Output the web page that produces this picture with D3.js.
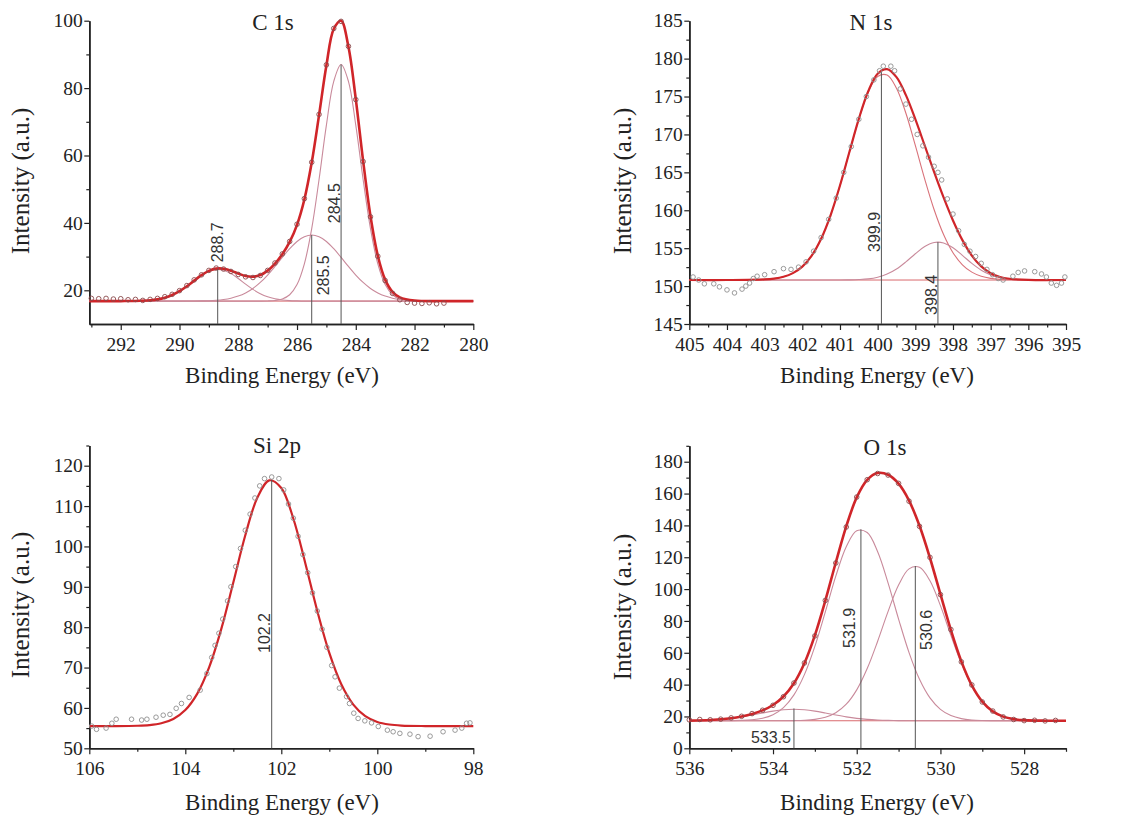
<!DOCTYPE html>
<html><head><meta charset="utf-8">
<script src="https://cdn.jsdelivr.net/npm/d3@7"></script>
<style>body{margin:0;background:#fff} svg{display:block}</style>
</head><body>
<svg id="chart" width="1133" height="820"></svg>
<script>
// ---------------- C 1s ----------------
const cGrid = [293.07,292,291.5,291,290.75,290.5,290.25,290,289.75,289.5,289.25,289,288.75,288.5,288.25,288,287.75,287.5,287.25,287,286.75,286.5,286.25,286,285.75,285.5,285.25,285,284.75,284.5,284.25,284,283.75,283.5,283.25,283,282.75,282.5,282,281,280];
const cComp2887 = [16.8,16.8,16.84,17.04,17.31,17.8,18.59,19.72,21.18,22.84,24.43,25.63,26.18,25.94,24.97,23.5,21.83,20.27,18.99,18.07,17.48,17.13,16.95,16.86,16.8,16.8,16.8,16.8,16.8,16.8,16.8,16.8,16.8,16.8,16.8,16.8,16.8,16.8,16.8,16.8,16.8];
const cComp2855 = [16.8,16.8,16.8,16.8,16.8,16.8,16.8,16.8,16.81,16.83,16.86,16.92,17.05,17.28,17.66,18.28,19.22,20.55,22.33,24.53,27.07,29.77,32.33,34.48,35.9,36.4,35.9,34.48,32.33,29.77,27.07,24.53,22.33,20.55,19.22,18.28,17.66,17.28,16.92,16.8,16.8];
const cComp2845 = [16.8,16.8,16.8,16.8,16.8,16.8,16.8,16.8,16.8,16.8,16.8,16.8,16.8,16.8,16.8,16.8,16.8,16.8,16.8,16.84,16.98,17.42,18.67,21.69,27.85,38.3,52.88,69.02,82.0,87.0,82.0,69.02,52.88,38.3,27.85,21.69,18.67,17.42,16.84,16.8,16.8];
const cEnvelope = [16.8,16.8,16.84,17.04,17.31,17.8,18.59,19.73,21.19,22.87,24.49,25.75,26.43,26.42,25.83,24.98,24.25,24.02,24.52,25.84,27.93,30.72,34.35,39.43,46.95,57.9,71.98,86.7,97.53,99.97,92.27,76.75,58.41,42.05,30.27,23.17,19.53,17.9,16.96,16.8,16.8];
const cBaseline = 16.8;
const cDataX = [293.0,292.75,292.5,292.25,292.0,291.75,291.5,291.25,291.0,290.75,290.5,290.25,290.0,289.75,289.5,289.25,289.0,288.75,288.5,288.25,288.0,287.75,287.5,287.25,287.0,286.75,286.5,286.25,286.0,285.75,285.5,285.25,285.0,284.75,284.5,284.25,284.0,283.75,283.5,283.25,283.0,282.75,282.5,282.25,282.0,281.75,281.5,281.25,281.0];
const cDataY = [17.6,17.5,17.6,17.4,17.5,17.2,17.3,17.0,17.3,17.6,18.1,18.8,19.9,21.4,23.1,24.6,25.9,26.6,26.3,25.6,24.7,24.0,23.8,24.4,25.9,28.1,30.8,34.5,39.6,47.2,58.0,72.2,86.9,97.7,99.8,92.4,76.6,58.2,41.8,30.1,22.9,19.1,17.2,16.4,16.2,16.1,16.3,16.0,16.2];
const cPeaks = [288.7, 285.5, 284.5];
const cPeakTops = [26.2, 36.4, 87.0];
const cXTicks = [292,290,288,286,284,282,280];
const cYTicks = [20,40,60,80,100];

// ---------------- N 1s ----------------
const nGrid = [405,404,403,402.75,402.5,402.25,402,401.75,401.5,401.25,401,400.75,400.5,400.25,400,399.75,399.5,399.25,399,398.75,398.5,398.25,398,397.75,397.5,397.25,397,396.75,396.5,396,395];
const nComp3999 = [150.8,150.8,150.88,150.99,151.23,151.71,152.57,154.03,156.25,159.34,163.25,167.66,171.99,175.55,177.64,177.84,176.1,172.79,168.55,164.11,160.07,156.8,154.4,152.81,151.84,151.3,151.02,150.89,150.84,150.8,150.8];
const nComp3984 = [150.8,150.8,150.8,150.8,150.8,150.8,150.8,150.8,150.8,150.8,150.8,150.82,150.86,150.95,151.17,151.58,152.25,153.19,154.26,155.21,155.75,155.69,155.05,154.05,152.99,152.1,151.48,151.11,150.93,150.81,150.8];
const nEnvelope = [150.8,150.8,150.88,150.99,151.23,151.71,152.57,154.03,156.25,159.34,163.26,167.68,172.05,175.7,178.01,178.62,177.55,175.18,172.01,168.52,165.02,161.69,158.65,156.06,154.03,152.6,151.7,151.2,150.97,150.81,150.8];
const nBaseline = 150.8;
const nDataX = [404.9,404.75,404.6,404.35,404.2,404.0,403.8,403.6,403.5,403.4,403.3,403.2,403.0,402.75,402.5,402.3,402.1,401.9,401.7,401.5,401.3,401.1,400.9,400.7,400.5,400.3,400.1,399.95,399.85,399.65,399.55,399.4,399.25,399.1,398.95,398.8,398.65,398.5,398.4,398.3,398.15,398.0,397.85,397.7,397.55,397.4,397.25,397.1,396.95,396.8,396.67,396.41,396.27,396.1,395.83,395.65,395.52,395.39,395.25,395.12,395.03];
const nDataY = [151.2,150.8,150.3,150.3,149.9,149.5,149.1,149.6,150.0,150.4,151.0,151.3,151.5,151.9,152.3,152.2,152.5,153.2,154.6,156.4,158.8,161.6,165.0,168.4,172.0,175.0,177.2,178.4,179.0,179.0,178.4,176.0,174.0,172.0,170.0,168.5,167.0,165.8,165.0,164.0,161.5,159.5,157.3,155.5,154.6,153.9,153.0,152.2,151.5,151.0,150.8,151.3,151.8,152.0,151.9,151.6,151.2,150.4,150.1,150.4,151.2];
const nPeaks = [399.9, 398.4];
const nPeakTops = [178.2, 155.8];
const nXTicks = [405,404,403,402,401,400,399,398,397,396,395];
const nYTicks = [145,150,155,160,165,170,175,180,185];

// ---------------- Si 2p ----------------
const sGrid = [106,105.5,105,104.75,104.5,104.25,104,103.75,103.5,103.25,103,102.75,102.5,102.25,102,101.75,101.5,101.25,101,100.75,100.5,100.25,100,99.75,99.5,99,98.5,98];
const sFit = [55.5,55.5,55.58,55.75,56.2,57.26,59.47,63.54,70.17,79.57,91.06,102.76,112.04,116.37,114.47,106.92,95.85,84.0,73.62,65.86,60.83,57.97,56.53,55.89,55.63,55.51,55.5,55.5];
const sDataX = [105.95,105.85,105.65,105.53,105.44,105.12,104.91,104.8,104.61,104.46,104.32,104.19,104.08,103.92,103.69,103.55,103.45,103.38,103.3,103.22,103.12,103.05,102.95,102.85,102.75,102.65,102.55,102.45,102.35,102.2,102.05,101.95,101.85,101.75,101.65,101.55,101.45,101.35,101.25,101.15,101.05,100.95,100.88,100.79,100.64,100.58,100.49,100.4,100.26,100.12,99.98,99.79,99.67,99.53,99.32,99.15,98.9,98.63,98.38,98.24,98.14,98.07];
const sDataY = [55.5,54.7,55.0,56.2,57.2,57.2,57.0,57.2,57.7,58.2,58.4,59.9,61.1,62.6,64.4,68.5,72.5,75.5,78.5,82.0,86.5,90.0,95.0,99.5,104.0,108.0,112.0,115.0,116.8,117.2,116.8,114.0,110.5,107.0,102.5,98.0,93.5,88.5,84.0,79.5,75.0,70.5,67.7,64.9,62.8,61.1,58.7,57.4,56.8,56.3,55.4,54.5,54.1,53.7,53.5,52.9,53.0,54.1,54.5,55.0,56.2,56.3];
const sPeaks = [102.2];
const sPeakTops = [116.5];
const sXTicks = [106,104,102,100,98];
const sYTicks = [50,60,70,80,90,100,110,120];

// ---------------- O 1s ----------------
const oGrid = [536,535.5,535,534.75,534.5,534.25,534,533.75,533.5,533.25,533,532.75,532.5,532.25,532,531.75,531.5,531.25,531,530.75,530.5,530.25,530,529.75,529.5,529.25,529,528.75,528.5,528.25,528,527.5,527];
const oComp5319 = [17.3,17.3,17.37,17.51,17.91,18.91,21.14,25.6,33.58,46.27,64.05,85.71,108.1,126.62,136.66,135.51,123.47,103.78,81.19,60.12,43.32,31.64,24.47,20.55,18.64,17.8,17.47,17.35,17.31,17.3,17.3,17.3,17.3];
const oComp5306 = [17.3,17.3,17.3,17.3,17.3,17.3,17.3,17.33,17.4,17.6,18.16,19.48,22.3,27.68,36.71,50.09,67.25,85.99,102.52,112.72,113.7,105.19,89.6,70.98,53.26,39.03,29.16,23.13,19.9,18.34,17.68,17.34,17.3];
const oComp5335 = [17.4,17.75,18.82,19.74,20.9,22.18,23.36,24.2,24.5,24.2,23.36,22.18,20.9,19.74,18.82,18.16,17.75,17.52,17.4,17.35,17.32,17.3,17.3,17.3,17.3,17.3,17.3,17.3,17.3,17.3,17.3,17.3,17.3];
const oEnvelope = [17.4,17.75,18.89,19.95,21.51,23.79,27.2,32.53,40.88,53.47,70.97,92.77,116.7,139.44,157.59,168.6,172.9,171.8,166.2,155.59,139.74,119.53,96.77,74.23,54.6,39.53,29.33,23.18,19.91,18.34,17.68,17.34,17.3];
const oBaseline = 17.3;
const oDataX = [536,535.75,535.5,535.25,535,534.75,534.5,534.25,534,533.75,533.5,533.25,533,532.75,532.5,532.25,532,531.75,531.5,531.25,531,530.75,530.5,530.25,530,529.75,529.5,529.25,529,528.75,528.5,528.25,528,527.75,527.5,527.25];
const oDataY = [17.9,18.1,17.9,18.3,19.1,20.1,21.8,23.9,27.0,32.4,41.0,53.6,70.6,92.9,116.4,139.0,157.8,168.7,172.6,171.6,166.4,155.2,139.4,119.9,96.5,74.6,54.3,39.8,29.1,23.4,19.7,18.1,17.4,17.6,17.2,17.5];
const oPeaks = [533.5, 531.9, 530.6];
const oPeakTops = [25.0, 137.5, 114.5];
const oXTicks = [536,534,532,530,528];
const oYTicks = [0,20,40,60,80,100,120,140,160,180];

// ---------------- drawing ----------------
const svg = d3.select('#chart');
const SERIF = '"Liberation Serif","Times New Roman",serif';
const SANS = '"Liberation Sans",Arial,sans-serif';
const ENV_COLOR = '#d02529', COMP_COLOR = '#c98a9b', BASE_COLOR = '#d9686c', MARK_COLOR = '#555';

function drawPanel(p) {
  const x = d3.scaleLinear().domain(p.xDomain).range(p.xRange);
  const y = d3.scaleLinear().domain(p.yDomain).range(p.yRange);
  const g = svg.append('g');
  const x0 = p.xRange[0], yB = p.yRange[0];

  g.append('g').attr('transform', `translate(0,${yB})`)
    .call(d3.axisBottom(x).tickValues(p.xTicks).tickFormat(d3.format('d')).tickSize(6).tickSizeOuter(0).tickPadding(7));
  g.append('g').attr('transform', `translate(0,${yB})`)
    .call(d3.axisBottom(x).tickValues(p.xMinor).tickFormat('').tickSize(3.5).tickSizeOuter(0));
  g.append('g').attr('transform', `translate(${x0},0)`)
    .call(d3.axisLeft(y).tickValues(p.yTicks).tickFormat(d3.format('d')).tickSize(5).tickSizeOuter(0).tickPadding(1.5));
  g.append('g').attr('transform', `translate(${x0},0)`)
    .call(d3.axisLeft(y).tickValues(p.yMinor).tickFormat('').tickSize(3).tickSizeOuter(0));
  g.selectAll('.domain').attr('stroke', '#222').attr('stroke-width', 1.6);
  g.selectAll('.tick line').attr('stroke', '#222').attr('stroke-width', 1.2);
  g.selectAll('.tick text').attr('font-family', SERIF).attr('font-size', 19.5).attr('fill', '#222');

  const line = arr => d3.line().x((d, i) => x(p.grid[i])).y(d => y(d)).curve(d3.curveCatmullRom)(arr);

  if (p.baseline !== undefined) {
    g.append('line').attr('x1', x(p.xDomain[0])).attr('x2', x(p.xDomain[1]))
      .attr('y1', y(p.baseline)).attr('y2', y(p.baseline))
      .attr('stroke', BASE_COLOR).attr('stroke-width', 1);
  }
  (p.components || []).forEach((c, i) => {
    g.append('path').attr('d', line(c)).attr('fill', 'none')
      .attr('stroke', (p.compColors && p.compColors[i]) || COMP_COLOR).attr('stroke-width', 1.1);
  });
  g.append('path').attr('d', line(p.envelope)).attr('fill', 'none')
    .attr('stroke', ENV_COLOR).attr('stroke-width', p.envWidth || 2.2);
  g.selectAll('circle.pt').data(p.dataX).enter().append('circle')
    .attr('cx', d => x(d)).attr('cy', (d, i) => y(p.dataY[i])).attr('r', 2.3)
    .attr('fill', 'none').attr('stroke', p.dotColor).attr('stroke-width', 0.9);
  p.peaks.forEach((pk, i) => {
    g.append('line').attr('x1', x(pk)).attr('x2', x(pk)).attr('y1', yB).attr('y2', y(p.peakTops[i]))
      .attr('stroke', MARK_COLOR).attr('stroke-width', 1);
    const L = p.labels[i];
    const t = g.append('text').text(d3.format('.1f')(pk))
      .attr('font-family', SANS).attr('font-size', 16).attr('fill', '#333');
    if (L.rotate) {
      t.attr('transform', `translate(${x(pk) + L.dx},${y(L.y)}) rotate(-90)`).attr('text-anchor', 'start');
    } else {
      t.attr('x', x(pk) + L.dx).attr('y', y(L.y)).attr('text-anchor', 'end');
    }
  });

  svg.append('text').text(p.title).attr('x', p.titlePos[0]).attr('y', p.titlePos[1])
    .attr('text-anchor', 'middle').attr('font-family', SERIF).attr('font-size', 23).attr('fill', '#222');
  svg.append('text').text('Binding Energy (eV)').attr('x', p.xLabelPos[0]).attr('y', p.xLabelPos[1])
    .attr('text-anchor', 'middle').attr('font-family', SERIF).attr('font-size', 23).attr('fill', '#222');
  svg.append('text').text('Intensity (a.u.)')
    .attr('transform', `translate(${p.yLabelPos[0]},${p.yLabelPos[1]}) rotate(-90)`)
    .attr('text-anchor', 'middle').attr('dominant-baseline', 'central')
    .attr('font-family', SERIF).attr('font-size', 25).attr('fill', '#222');
}

const range = (a, b, s) => d3.range(a, b + s / 2, s);

drawPanel({
  title: 'C 1s', titlePos: [273, 30], xLabelPos: [282, 383], yLabelPos: [20, 181],
  xDomain: [293.07, 280], xRange: [89.3, 473.3], yDomain: [10, 100], yRange: [324, 20.7],
  xTicks: cXTicks, xMinor: [293,291,289,287,285,283,281], yTicks: cYTicks, yMinor: [30,50,70,90],
  grid: cGrid, components: [cComp2887, cComp2855, cComp2845], envelope: cEnvelope, baseline: cBaseline,
  dataX: cDataX, dataY: cDataY, dotColor: '#8a4a4c', envWidth: 2.6,
  peaks: cPeaks, peakTops: cPeakTops,
  labels: [{rotate: true, dx: 5, y: 28.3}, {rotate: true, dx: 17, y: 18.5}, {rotate: true, dx: -1, y: 39.9}]
});
drawPanel({
  title: 'N 1s', titlePos: [871, 30], xLabelPos: [877, 383], yLabelPos: [622, 181],
  xDomain: [405, 395], xRange: [689.3, 1066], yDomain: [145, 185], yRange: [324, 20.7],
  xTicks: nXTicks, xMinor: range(395.5, 404.5, 1), yTicks: nYTicks, yMinor: range(147.5, 182.5, 5),
  grid: nGrid, components: [nComp3999, nComp3984], compColors: ['#d9727a', COMP_COLOR], envelope: nEnvelope, baseline: nBaseline,
  dataX: nDataX, dataY: nDataY, dotColor: '#8f8f8f',
  peaks: nPeaks, peakTops: nPeakTops,
  labels: [{rotate: true, dx: -1.5, y: 154.5}, {rotate: true, dx: -1, y: 146.2}]
});
drawPanel({
  title: 'Si 2p', titlePos: [277, 453], xLabelPos: [282, 810], yLabelPos: [20, 605],
  xDomain: [106, 98], xRange: [89.3, 473.3], yDomain: [50, 125], yRange: [748.3, 445.5],
  xTicks: sXTicks, xMinor: [105,103,101,99], yTicks: sYTicks, yMinor: range(55, 125, 10),
  grid: sGrid, components: [], envelope: sFit,
  dataX: sDataX, dataY: sDataY, dotColor: '#8f8f8f',
  peaks: sPeaks, peakTops: sPeakTops,
  labels: [{rotate: true, dx: -1.5, y: 73.6}]
});
drawPanel({
  title: 'O 1s', titlePos: [885, 455], xLabelPos: [877, 810], yLabelPos: [622, 607],
  xDomain: [536, 527], xRange: [689.3, 1066], yDomain: [0, 190], yRange: [748.3, 445.8],
  xTicks: oXTicks, xMinor: [535,533,531,529,527], yTicks: oYTicks, yMinor: range(10, 190, 20),
  grid: oGrid, components: [oComp5335, oComp5319, oComp5306], envelope: oEnvelope, baseline: oBaseline,
  dataX: oDataX, dataY: oDataY, dotColor: '#8a4a4c', envWidth: 2.6,
  peaks: oPeaks, peakTops: oPeakTops,
  labels: [{rotate: false, dx: -3, y: 3.3}, {rotate: true, dx: -5.5, y: 63}, {rotate: true, dx: 17, y: 61.8}]
});
</script>
</body></html>
